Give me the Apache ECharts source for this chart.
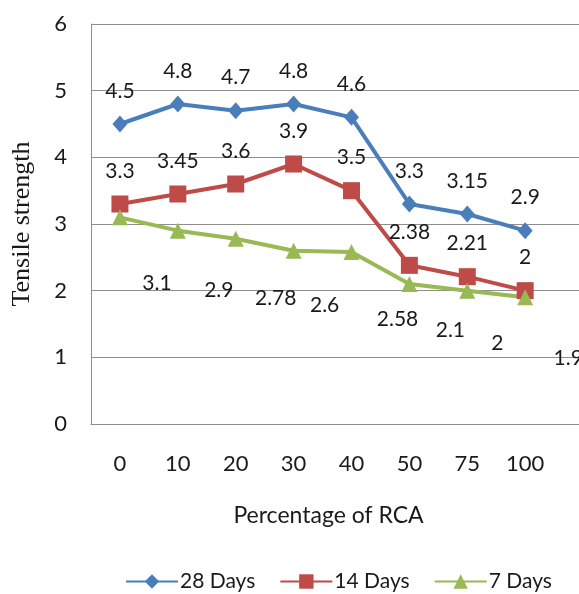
<!DOCTYPE html>
<html>
<head>
<meta charset="utf-8">
<script src="https://cdn.jsdelivr.net/npm/echarts@6/dist/echarts.min.js"></script>
<style>
html,body{margin:0;padding:0;background:#fff;}
#chart{width:579px;height:594px;}
</style>
</head>
<body>
<div id="chart"></div>
<script>
// ---- data ----
const categories = ['0', '10', '20', '30', '40', '50', '75', '100'];
const days28 = [4.5, 4.8, 4.7, 4.8, 4.6, 3.3, 3.15, 2.9];
const days14 = [3.3, 3.45, 3.6, 3.9, 3.5, 2.38, 2.21, 2];
const days7 = [3.1, 2.9, 2.78, 2.6, 2.58, 2.1, 2, 1.9];
const seriesNames = ['28 Days', '14 Days', '7 Days'];
const yTicks = [0, 1, 2, 3, 4, 5, 6];

// ---- styling (kept apart from data) ----
const FONT = 'Lato';
const TXT = '#1a1a1a';
const GRIDC = '#8e8e8e';
const labelOffsets7 = [[37,66],[41,60],[40,60],[31,55],[46,67],[41,46],[30,53],[43,61]];

const chart = echarts.init(document.getElementById('chart'), null, {renderer: 'canvas'});

function mkSeries(name, values, color, symbol, size, offsets) {
  return {
    name: name,
    type: 'line',
    data: values.map((v, i) => ({
      value: v,
      label: { offset: offsets ? offsets[i] : [0, -33] }
    })),
    symbol: symbol,
    symbolSize: size,
    showSymbol: true,
    lineStyle: { color: color, width: 4 },
    itemStyle: { color: color },
    label: {
      show: true,
      position: 'inside',
      color: TXT,
      fontFamily: FONT,
      fontSize: 21,
      formatter: p => String(p.value)
    },
    emphasis: { disabled: true },
    animation: false
  };
}

chart.setOption({
  backgroundColor: '#ffffff',
  animation: false,
  grid: { left: 91, top: 24, bottom: 170, width: 521, containLabel: false, outerBoundsMode: 'none' },
  xAxis: {
    type: 'category',
    data: categories.concat(['']),
    boundaryGap: true,
    axisLine: { show: true, lineStyle: { color: GRIDC, width: 1 } },
    axisTick: { show: false },
    axisLabel: { color: TXT, fontFamily: FONT, fontSize: 22, margin: 29, interval: 0 },
    name: 'Percentage of RCA',
    nameLocation: 'middle',
    nameGap: 80,
    nameTextStyle: { color: TXT, fontFamily: FONT, fontSize: 23, padding: [0, 46, 0, 0] },
    splitLine: { show: false }
  },
  yAxis: {
    type: 'value',
    min: yTicks[0],
    max: yTicks[yTicks.length - 1],
    interval: 1,
    axisLine: { show: true, lineStyle: { color: GRIDC, width: 1 } },
    axisTick: { show: false },
    axisLabel: { color: TXT, fontFamily: FONT, fontSize: 22, margin: 24 },
    splitLine: { show: true, lineStyle: { color: GRIDC, width: 1 } },
    name: 'Tensile strength',
    nameLocation: 'middle',
    nameGap: 56,
    nameTextStyle: { color: TXT, fontFamily: 'Liberation Serif', fontSize: 26 }
  },
  legend: {
    left: 120,
    top: 566,
    itemWidth: 52,
    itemHeight: 18,
    itemGap: 24,
    textStyle: { color: TXT, fontFamily: FONT, fontSize: 21, padding: [0, 0, 0, -3] },
    data: seriesNames
  },
  series: [
    mkSeries(seriesNames[0], days28, '#4a7ebb', 'diamond', [15, 17], null),
    mkSeries(seriesNames[1], days14, '#be4b48', 'rect', 17, null),
    mkSeries(seriesNames[2], days7, '#98b954', 'triangle', 16, labelOffsets7)
  ]
});
</script>
</body>
</html>
